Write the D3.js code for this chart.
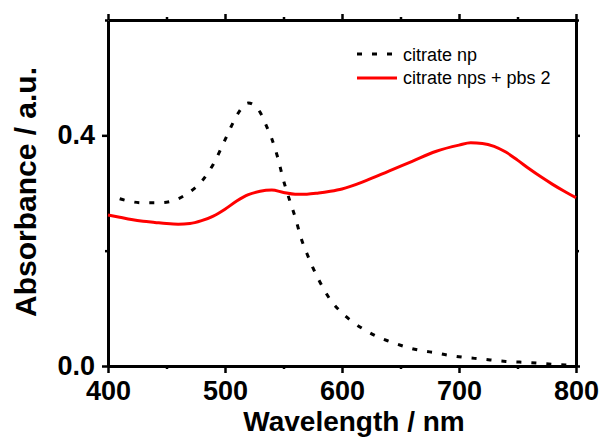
<!DOCTYPE html>
<html><head><meta charset="utf-8">
<script src="https://cdn.jsdelivr.net/npm/d3@7"></script>
<style>
html,body{margin:0;padding:0;background:#fff;}
svg{display:block;font-family:Arial,"Liberation Sans",sans-serif;}
</style></head>
<body><svg id="c" width="605" height="437"></svg>
<script>
const citrateNpWl = [410,420,430,440,450,460,470,480,490,500,505,510,515,520,525,530,535,540,545,550,555,560,565,570,575,580,590,600,610,620,630,640,650,660,670,680,690,700,720,740,760,780,800];
const citrateNpAbs = [0.290,0.285,0.283,0.283,0.284,0.290,0.302,0.320,0.350,0.392,0.414,0.434,0.449,0.456,0.452,0.440,0.418,0.394,0.362,0.322,0.289,0.258,0.222,0.195,0.171,0.150,0.115,0.092,0.075,0.062,0.051,0.043,0.036,0.030,0.026,0.023,0.019,0.016,0.012,0.008,0.006,0.003,0.001];
const pbsWl = [400,410,420,430,440,450,460,470,480,490,500,510,520,530,540,550,560,570,580,590,600,620,640,660,680,700,710,720,730,740,750,760,770,780,790,800];
const pbsAbs = [0.262,0.258,0.254,0.251,0.249,0.247,0.246,0.247,0.252,0.260,0.272,0.286,0.297,0.303,0.305,0.301,0.298,0.298,0.300,0.303,0.307,0.321,0.338,0.355,0.372,0.383,0.387,0.386,0.381,0.371,0.357,0.342,0.328,0.315,0.303,0.292];
const seriesNames = ["citrate np","citrate nps + pbs 2"];
const xMajor = [400,500,600,700,800];
const xMinor = [450,550,650,750];
const yMajor = [0.0,0.4];
const yMinor = [0.2,0.6];

const svg = d3.select("#c");
const L=108,R=576,T=20,B=366;
const x = d3.scaleLinear().domain([400,800]).range([L,R]);
const y = d3.scaleLinear().domain([0,0.6]).range([B,T]);

function styleAxis(g){
  g.select(".domain").attr("stroke","#000").attr("stroke-width",3);
  g.selectAll(".tick line").attr("stroke","#000").attr("stroke-width",2.5);
  g.selectAll(".tick text").attr("fill","#000").attr("font-size",27).attr("font-weight","bold");
}
// minor ticks
svg.append("g").attr("transform",`translate(0,${B})`).call(d3.axisBottom(x).tickValues(xMinor).tickSize(3).tickFormat("")).call(styleAxis).select(".domain").remove();
svg.append("g").attr("transform",`translate(0,${T})`).call(d3.axisTop(x).tickValues(xMinor).tickSize(3).tickFormat("")).call(styleAxis).select(".domain").remove();
svg.append("g").attr("transform",`translate(${L},0)`).call(d3.axisLeft(y).tickValues(yMinor).tickSize(3).tickFormat("")).call(styleAxis).select(".domain").remove();
svg.append("g").attr("transform",`translate(${R},0)`).call(d3.axisRight(y).tickValues(yMinor).tickSize(3).tickFormat("")).call(styleAxis).select(".domain").remove();
// major
svg.append("g").attr("transform",`translate(0,${B})`).call(d3.axisBottom(x).tickValues(xMajor).tickSize(7).tickSizeOuter(0).tickPadding(8).tickFormat(d3.format("d"))).call(styleAxis);
svg.append("g").attr("transform",`translate(0,${T})`).call(d3.axisTop(x).tickValues(xMajor).tickSize(6).tickSizeOuter(0).tickFormat("")).call(styleAxis);
svg.append("g").attr("transform",`translate(${L},0)`).call(d3.axisLeft(y).tickValues(yMajor).tickSize(6).tickSizeOuter(0).tickPadding(7).tickFormat(d3.format(".1f"))).call(styleAxis);
svg.append("g").attr("transform",`translate(${R},0)`).call(d3.axisRight(y).tickValues(yMajor).tickSize(4).tickSizeOuter(0).tickFormat("")).call(styleAxis);

const line = d3.line().curve(d3.curveMonotoneX).x(d=>x(d[0])).y(d=>y(d[1]));
const s1 = citrateNpWl.map((w,i)=>[w,citrateNpAbs[i]]);
const s2 = pbsWl.map((w,i)=>[w,pbsAbs[i]]);
svg.append("path").datum(s2).attr("d",line).attr("fill","none").attr("stroke","#ff0000").attr("stroke-width",3);
svg.append("path").datum(s1).attr("d",line).attr("fill","none").attr("stroke","#000").attr("stroke-width",3).attr("stroke-dasharray","5,10");

// legend
const leg = svg.append("g");
leg.append("line").attr("x1",357).attr("x2",393).attr("y1",54).attr("y2",54).attr("stroke","#000").attr("stroke-width",3).attr("stroke-dasharray","5,10");
leg.append("line").attr("x1",357).attr("x2",397).attr("y1",78).attr("y2",78).attr("stroke","#ff0000").attr("stroke-width",3);
leg.append("text").attr("x",403).attr("y",61).attr("font-size",18).text(seriesNames[0]);
leg.append("text").attr("x",403).attr("y",84).attr("font-size",18).text(seriesNames[1]);

// titles
svg.append("text").attr("x",354).attr("y",431).attr("text-anchor","middle").attr("font-size",28).attr("font-weight","bold").text("Wavelength / nm");
svg.append("text").attr("transform","translate(36,192) rotate(-90)").attr("text-anchor","middle").attr("font-size",30).attr("font-weight","bold").text("Absorbance / a.u.");
</script></body></html>
